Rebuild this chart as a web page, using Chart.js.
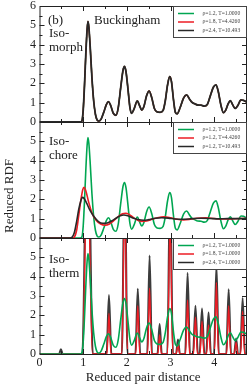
<!DOCTYPE html>
<html>
<head>
<meta charset="utf-8">
<script src="https://cdn.jsdelivr.net/npm/chart.js@4.4.0/dist/chart.umd.min.js"></script>
<style>
  body { margin: 0; background: #fff; }
  #wrap { position: relative; width: 249px; height: 387px; overflow: hidden; font-family: "Liberation Serif", serif; color: #222; }
  canvas { position: absolute; left: 0; top: 0; }
  .lbl { position: absolute; font-size: 13px; line-height: 14px; white-space: nowrap; }
  #ytitle { position: absolute; left: 9px; top: 196px; transform: translate(-50%, -50%) rotate(-90deg); font-size: 13px; white-space: nowrap; }
</style>
</head>
<body>
<div id="wrap">
  <canvas id="p1" width="249" height="387"></canvas>
  <canvas id="p2" width="249" height="387"></canvas>
  <canvas id="p3" width="249" height="387"></canvas>
  <div class="lbl" style="left:48px; top:13px;">(b)</div>
  <div class="lbl" style="left:94px; top:13px;">Buckingham</div>
  <div class="lbl" style="left:49px; top:26px;">Iso-<br>morph</div>
  <div class="lbl" style="left:49px; top:134px;">Iso-<br>chore</div>
  <div class="lbl" style="left:49px; top:252px;">Iso-<br>therm</div>
  <div id="ytitle">Reduced RDF</div>
</div>
<script>
// ----------------------- DATA -----------------------
// rho=1.2, T=1.0000 (same curve in all three panels)
const rdfLiquid = [
  [0, 0], [0.93, 0], [0.97, 0.05], [1.0, 0.6], [1.03, 1.9], [1.06, 3.5], [1.09, 4.8], [1.11, 5.2],
  [1.13, 4.9], [1.16, 3.9], [1.2, 2.3], [1.24, 1.1], [1.28, 0.4], [1.32, 0.1], [1.36, 0.05],
  [1.41, 0.15], [1.47, 0.5], [1.53, 0.9], [1.58, 1.05], [1.63, 0.85], [1.69, 0.45], [1.75, 0.35],
  [1.8, 0.7], [1.86, 1.8], [1.91, 2.65], [1.945, 2.87], [1.98, 2.6], [2.03, 1.6], [2.07, 0.75],
  [2.11, 0.45], [2.16, 0.65], [2.24, 1.09], [2.29, 0.85], [2.34, 0.62], [2.39, 0.8], [2.45, 1.35],
  [2.51, 1.6], [2.57, 1.25], [2.63, 0.7], [2.69, 0.52], [2.76, 0.5], [2.83, 0.6], [2.88, 1.1],
  [2.93, 1.9], [2.98, 2.35], [3.02, 2.1], [3.07, 1.1], [3.11, 0.5], [3.15, 0.42], [3.22, 0.75],
  [3.3, 1.25], [3.37, 1.4], [3.43, 1.2], [3.49, 1.02], [3.55, 0.95], [3.62, 0.88], [3.7, 0.87],
  [3.77, 0.82], [3.84, 0.9], [3.91, 1.35], [3.98, 1.8], [4.04, 1.92], [4.09, 1.6], [4.15, 0.9],
  [4.21, 0.48], [4.26, 0.6], [4.32, 0.95], [4.37, 1.1], [4.42, 0.9], [4.48, 0.7], [4.54, 0.85],
  [4.61, 1.14], [4.67, 1.12], [4.75, 1.02]
];

// isomorph curves collapse onto the liquid curve
const isomorphMid = rdfLiquid;
const isomorphHigh = rdfLiquid;

// isochore rho=1.2, T=4.4260
const isochoreMid = [
  [0, 0], [0.76, 0], [0.8, 0.05], [0.85, 0.4], [0.9, 1.2], [0.95, 2.0], [0.99, 2.5], [1.02, 2.62],
  [1.06, 2.45], [1.12, 1.9], [1.2, 1.3], [1.3, 0.9], [1.4, 0.72], [1.5, 0.66], [1.6, 0.72],
  [1.7, 0.9], [1.8, 1.1], [1.9, 1.25], [1.97, 1.28], [2.05, 1.22], [2.15, 1.05], [2.25, 0.92],
  [2.35, 0.86], [2.45, 0.88], [2.55, 0.95], [2.7, 1.05], [2.85, 1.1], [3.0, 1.05], [3.15, 0.97],
  [3.3, 0.94], [3.45, 0.97], [3.6, 1.02], [3.8, 1.04], [4.0, 1.01], [4.2, 0.98], [4.4, 0.99],
  [4.6, 1.01], [4.75, 1.0]
];

// isochore rho=1.2, T=10.493
const isochoreHigh = [
  [0, 0], [0.7, 0], [0.75, 0.05], [0.8, 0.3], [0.85, 0.85], [0.9, 1.5], [0.95, 1.95], [0.98, 2.1],
  [1.02, 2.05], [1.08, 1.8], [1.15, 1.45], [1.25, 1.1], [1.35, 0.85], [1.45, 0.76], [1.55, 0.78],
  [1.65, 0.88], [1.75, 1.02], [1.85, 1.15], [1.93, 1.19], [2.02, 1.15], [2.12, 1.05], [2.25, 0.96],
  [2.38, 0.92], [2.5, 0.95], [2.65, 1.02], [2.8, 1.05], [2.95, 1.03], [3.1, 0.98], [3.3, 0.97],
  [3.5, 1.0], [3.7, 1.02], [3.9, 1.01], [4.1, 0.99], [4.3, 1.0], [4.5, 1.0], [4.75, 1.0]
];

// isotherm rho=1.8, T=1.0000
const isothermMid = [
  [0, 0], [0.98, 0], [1.1, 10], [1.21, 0],
  [1.545, 0], [1.59, 2.1], [1.635, 0],
  [1.885, 0], [1.95, 8], [2.015, 0],
  [2.205, 0], [2.25, 2.5], [2.295, 0],
  [2.475, 0], [2.52, 3.4], [2.565, 0],
  [2.71, 0], [2.75, 1.0], [2.79, 0],
  [2.93, 0], [2.99, 7], [3.05, 0],
  [3.13, 0], [3.17, 0.5], [3.21, 0],
  [3.345, 0], [3.39, 2.8], [3.435, 0],
  [3.525, 0], [3.57, 1.9], [3.615, 0],
  [3.675, 0], [3.72, 1.7], [3.765, 0],
  [3.825, 0], [3.87, 1.5], [3.915, 0],
  [4.005, 0], [4.05, 3.7], [4.095, 0],
  [4.285, 0], [4.33, 2.5], [4.375, 0],
  [4.46, 0], [4.5, 0.6], [4.54, 0],
  [4.605, 0], [4.65, 2.2], [4.695, 0], [4.75, 0]
];

// isotherm rho=2.4, T=1.0000
const isothermHigh = [
  [0, 0], [0.45, 0], [0.49, 0.25], [0.53, 0], [0.98, 0], [1.1, 14], [1.22, 0],
  [1.535, 0], [1.59, 3.05], [1.645, 0],
  [1.885, 0], [1.95, 10], [2.015, 0],
  [2.195, 0], [2.25, 3.38], [2.305, 0],
  [2.465, 0], [2.52, 5.1], [2.575, 0],
  [2.7, 0], [2.75, 1.55], [2.8, 0],
  [2.925, 0], [2.99, 9], [3.055, 0],
  [3.125, 0], [3.17, 0.75], [3.215, 0],
  [3.335, 0], [3.39, 4.2], [3.445, 0],
  [3.515, 0], [3.57, 2.5], [3.625, 0],
  [3.665, 0], [3.72, 2.35], [3.775, 0],
  [3.815, 0], [3.87, 2.15], [3.925, 0],
  [3.995, 0], [4.05, 4.6], [4.105, 0],
  [4.275, 0], [4.33, 3.35], [4.385, 0],
  [4.455, 0], [4.5, 0.8], [4.545, 0],
  [4.595, 0], [4.65, 2.9], [4.705, 0], [4.75, 0]
];

const isomorphLabels = ["\u03c1=1.2, T=1.0000", "\u03c1=1.8, T=4.4260", "\u03c1=2.4, T=10.493"];
const isochoreLabels = ["\u03c1=1.2, T=1.0000", "\u03c1=1.2, T=4.4260", "\u03c1=1.2, T=10.493"];
const isothermLabels = ["\u03c1=1.2, T=1.0000", "\u03c1=1.8, T=1.0000", "\u03c1=2.4, T=1.0000"];

const xTickValues = [0, 1, 2, 3, 4];
const xMajor = [1, 2, 3, 4];
const xMinor = [0.5, 1.5, 2.5, 3.5, 4.5];
const yMajor = [1, 2, 3, 4, 5];
const yMinor = [0.5, 1.5, 2.5, 3.5, 4.5, 5.5];

const GREEN = "rgb(0,166,81)";
const RED = "rgb(236,28,36)";
const BLACK = "rgb(40,40,40)";
const GRAY = "rgb(60,60,60)";

// ----------------------- PLUGINS -----------------------
// frame + inward ticks on all four sides
const frameTicks = {
  id: "frameTicks",
  afterDatasetsDraw(chart) {
    const { ctx, chartArea: { top, bottom, left, right }, scales: { x, y } } = chart;
    ctx.save();
    ctx.strokeStyle = "#222";
    ctx.lineWidth = 1;
    ctx.beginPath();
    const tx = (v, len) => {
      const px = Math.round(x.getPixelForValue(v)) + 0.5;
      ctx.moveTo(px, top); ctx.lineTo(px, top + len);
      ctx.moveTo(px, bottom); ctx.lineTo(px, bottom - len);
    };
    const ty = (v, len) => {
      const py = Math.round(y.getPixelForValue(v)) + 0.5;
      ctx.moveTo(left, py); ctx.lineTo(left + len, py);
      ctx.moveTo(right, py); ctx.lineTo(right - len, py);
    };
    xMajor.forEach((v) => tx(v, 5));
    xMinor.forEach((v) => tx(v, 3));
    yMajor.forEach((v) => ty(v, 5));
    yMinor.forEach((v) => ty(v, 3));
    ctx.stroke();
    ctx.strokeRect(left + 0.5, top + 0.5, right - left - 1, bottom - top);
    ctx.restore();
  },
};

// legend box in the upper right corner
const boxLegend = {
  id: "boxLegend",
  afterDraw(chart, args, options) {
    const { ctx, chartArea: { top, right } } = chart;
    const left = right - 74;
    ctx.save();
    ctx.fillStyle = "#fff";
    ctx.fillRect(left, top, 74, 31);
    ctx.strokeStyle = "#444";
    ctx.lineWidth = 1;
    ctx.strokeRect(left + 0.5, top + 0.5, 73, 31);
    ctx.font = "5.6px 'Liberation Serif'";
    ctx.textBaseline = "middle";
    options.rows.forEach((r, i) => {
      const yy = top + 7.5 + i * 8.5;
      ctx.strokeStyle = r.color;
      ctx.lineWidth = 1.5;
      ctx.beginPath();
      ctx.moveTo(left + 5, yy);
      ctx.lineTo(left + 21, yy);
      ctx.stroke();
      ctx.fillStyle = "#444";
      ctx.fillText(r.label, left + 29.5, yy);
    });
    ctx.restore();
  },
};

// ----------------------- BUILD PANELS -----------------------
function line(data, color, order, width) {
  return {
    data: data.map((p) => ({ x: p[0], y: p[1] })),
    borderColor: color,
    borderWidth: width || 1.6,
    pointRadius: 0,
    cubicInterpolationMode: "monotone",
    order: order,
  };
}

function makePanel(id, top, bottom, datasets, labels, showX, topLabel) {
  const font = { family: "'Liberation Serif'", size: 12 };
  new Chart(document.getElementById(id), {
    type: "line",
    data: { datasets: datasets },
    options: {
      responsive: false,
      animation: false,
      layout: { padding: { top: top, bottom: bottom, left: 0, right: 2 } },
      plugins: {
        legend: { display: false },
        tooltip: { enabled: false },
        boxLegend: {
          rows: labels.map((l, i) => ({ label: l, color: [GREEN, RED, BLACK][i] })),
        },
      },
      scales: {
        x: {
          type: "linear",
          min: 0,
          max: 4.75,
          display: showX,
          afterBuildTicks: (s) => { s.ticks = xTickValues.map((v) => ({ value: v })); },
          afterFit: (s) => { s.height = showX ? 33 : 0; s.paddingLeft = 0; s.paddingRight = 0; },
          grid: { display: false, drawTicks: false },
          border: { display: false },
          ticks: { font: font, color: "#222", padding: 2, maxRotation: 0 },
          title: { display: true, text: "Reduced pair distance", font: { family: "'Liberation Serif'", size: 13 }, color: "#222", padding: { top: 0, bottom: 2 } },
        },
        y: {
          min: 0,
          max: 6,
          afterBuildTicks: (s) => {
            s.ticks = [0, 1, 2, 3, 4, 5, 6].filter((v) => v <= topLabel).map((v) => ({ value: v }));
          },
          afterFit: (s) => { s.width = 39.5; s.paddingTop = 0; s.paddingBottom = 0; },
          grid: { display: false, drawTicks: false },
          border: { display: false },
          ticks: { font: font, color: "#222", padding: 3.5 },
        },
      },
    },
    plugins: [frameTicks, boxLegend],
  });
}

makePanel("p1", 6, 265, [
  line(rdfLiquid, GREEN, 3, 1.4),
  line(isomorphMid, RED, 2, 1.4),
  line(isomorphHigh, BLACK, 1, 1.8),
], isomorphLabels, false, 6);

makePanel("p2", 122, 149, [
  line(rdfLiquid, GREEN, 3),
  line(isochoreMid, RED, 2),
  line(isochoreHigh, BLACK, 1),
], isochoreLabels, false, 5);

makePanel("p3", 238, 0, [
  line(rdfLiquid, GREEN, 1),
  line(isothermMid, RED, 2, 1.4),
  line(isothermHigh, GRAY, 3, 2),
], isothermLabels, true, 5);
</script>
</body>
</html>
